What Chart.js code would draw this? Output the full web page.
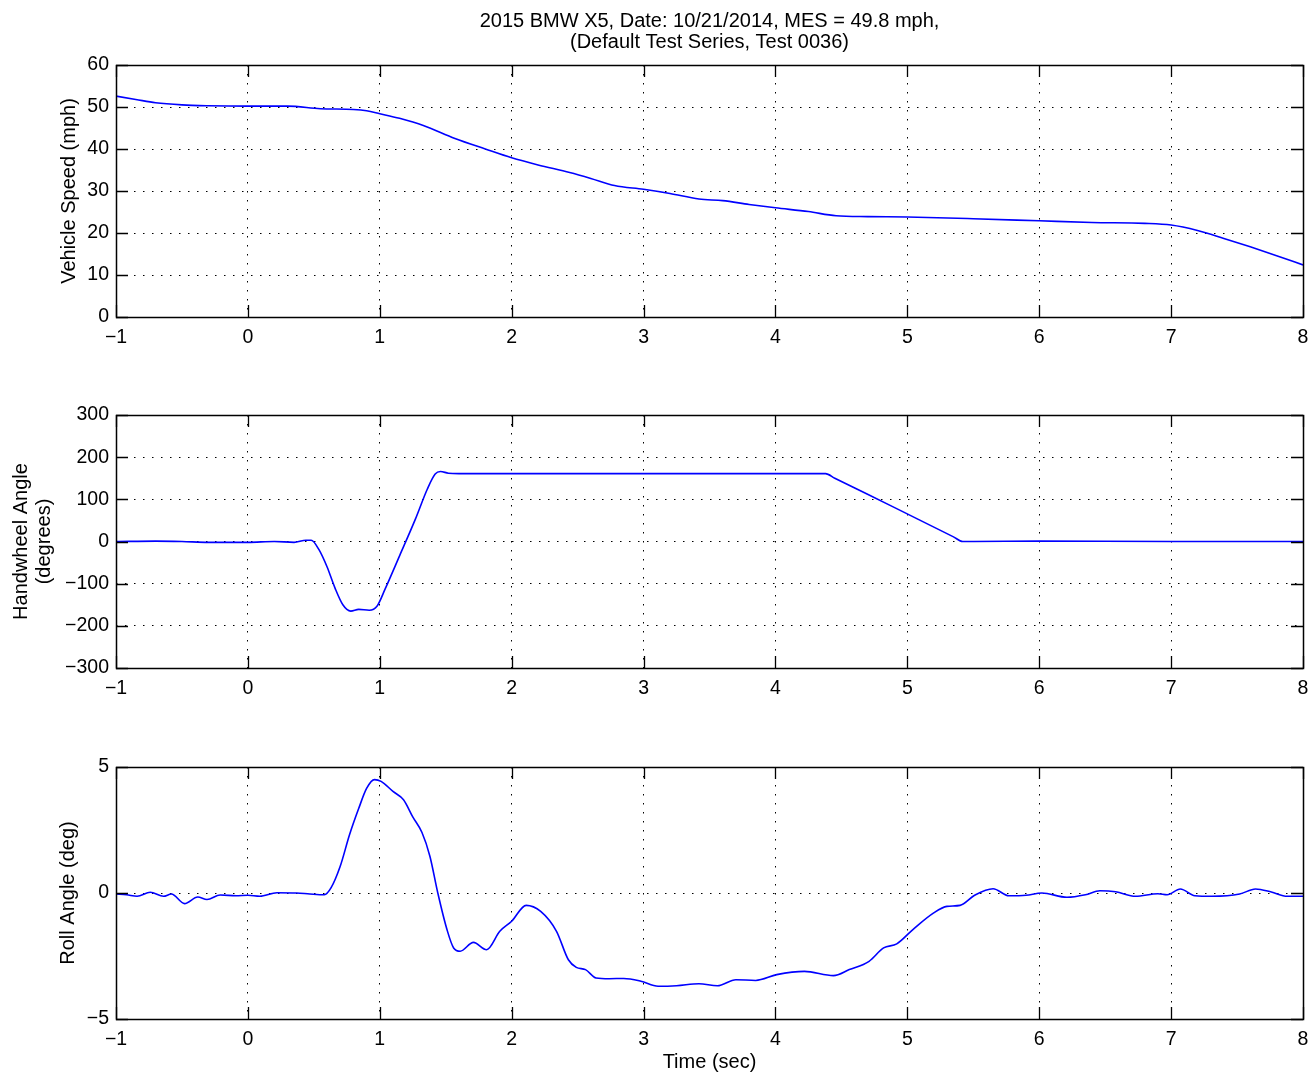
<!DOCTYPE html>
<html>
<head>
<meta charset="utf-8">
<script src="https://cdn.jsdelivr.net/npm/chart.js@4"></script>
<style>
    body { margin: 0; background: #fff; }
    #pagina { position: relative; width: 1312px; height: 1077px; }
    canvas { position: absolute; left: 0; }
</style>
</head>
<body>
<div id="pagina">
    <canvas id="graficoVelocidade" width="1312" height="370" style="top:0px"></canvas>
    <canvas id="graficoVolante" width="1312" height="350" style="top:370px"></canvas>
    <canvas id="graficoRolagem" width="1312" height="357" style="top:720px"></canvas>
</div>
<script>
const titulo = ["2015 BMW X5, Date: 10/21/2014, MES = 49.8 mph,", "(Default Test Series, Test 0036)"];

const ticksTempo = [-1, 0, 1, 2, 3, 4, 5, 6, 7, 8];
const ticksVelocidade = [0, 10, 20, 30, 40, 50, 60];
const ticksVolante = [-300, -200, -100, 0, 100, 200, 300];
const ticksRolagem = [-5, 0, 5];

const tempoVelocidade = [-1, -0.85, -0.7, -0.5, -0.3, 0, 0.3, 0.55, 0.8, 0.9, 1.0, 1.15, 1.33, 1.57, 1.8, 2.0, 2.2, 2.44, 2.6, 2.78,
    3.0, 3.2, 3.42, 3.6, 3.8, 4.0, 4.25, 4.46, 4.7, 5.0, 5.5, 6.0, 6.4, 6.8, 7.0, 7.2, 7.4, 7.6, 7.8, 8.0];
const velocidade = [52.6, 51.8, 51.0, 50.5, 50.3, 50.2, 50.2, 49.6, 49.4, 49.1, 48.4, 47.3, 45.6, 42.5, 40.0, 37.9, 36.2, 34.4, 33.0, 31.3,
    30.4, 29.4, 28.1, 27.7, 26.8, 26.0, 25.1, 24.1, 23.9, 23.8, 23.4, 22.9, 22.5, 22.3, 21.9, 20.6, 18.7, 16.7, 14.6, 12.4];

const tempoVolante = [-1, -0.7, -0.5, -0.3, 0, 0.2, 0.35, 0.44, 0.48, 0.54, 0.6, 0.66, 0.72, 0.78, 0.84, 0.92, 0.98, 1.04, 1.15, 1.27,
    1.36, 1.42, 1.46, 1.52, 1.6, 2.0, 3.0, 4.0, 4.3, 4.38, 4.45, 4.9, 5.35, 5.42, 5.5, 6, 7, 8];
const anguloVolante = [0, 1, 0, -2, -2, 0, -2, 3, 3, -20, -60, -110, -150, -165, -161, -163, -153, -113, -34, 53,
    124, 160, 166, 162, 161, 161, 161, 161, 161, 161, 150, 81, 11, 0, 0, 1, 0, 0];

const tempoRolagem = [-1, -0.92, -0.84, -0.74, -0.64, -0.58, -0.48, -0.38, -0.31, -0.21, -0.09, 0, 0.09, 0.22, 0.37, 0.47, 0.58, 0.63,
    0.70, 0.77, 0.84, 0.90, 0.96, 1.01, 1.10, 1.18, 1.25, 1.32, 1.38, 1.44, 1.51, 1.56, 1.61, 1.71, 1.81, 1.91, 2.0, 2.11, 2.22,
    2.34, 2.43, 2.49, 2.56, 2.64, 2.74, 2.85, 2.98, 3.11, 3.25, 3.42, 3.56, 3.70, 3.85, 4.01, 4.22, 4.44, 4.56, 4.71, 4.82, 4.92,
    5.04, 5.20, 5.30, 5.40, 5.51, 5.65, 5.77, 5.90, 6.02, 6.21, 6.35, 6.46, 6.58, 6.73, 6.90, 6.97, 7.07, 7.18, 7.31, 7.52, 7.64,
    7.76, 7.88, 8.0];
const anguloRolagem = [-0.04, -0.07, -0.13, 0.03, -0.13, -0.04, -0.42, -0.16, -0.26, -0.08, -0.11, -0.09, -0.13, 0.01, 0, -0.04, -0.07, 0.2,
    1.06, 2.3, 3.35, 4.15, 4.5, 4.43, 4.03, 3.7, 3.02, 2.4, 1.46, 0, -1.46, -2.18, -2.31, -1.96, -2.25, -1.52, -1.12, -0.49, -0.73,
    -1.52, -2.65, -2.95, -3.04, -3.37, -3.4, -3.39, -3.5, -3.7, -3.68, -3.6, -3.68, -3.44, -3.47, -3.24, -3.11, -3.28, -3.04, -2.71, -2.18, -2.02,
    -1.46, -0.79, -0.53, -0.49, -0.09, 0.17, -0.11, -0.09, 0, -0.17, -0.07, 0.09, 0.05, -0.13, -0.03, -0.07, 0.16, -0.11, -0.13, -0.04, 0.16,
    0.04, -0.13, -0.13];

const fonte = "'Liberation Sans', Arial, Helvetica, sans-serif";
const tamanhoTick = 19.5;
const tamanhoRotulo = 20;
const tamanhoMarca = 12;

// moldura do eixo e marcas para dentro, como no MATLAB
const moldura = {
    id: 'moldura',
    afterDraw(chart) {
        const { ctx, chartArea: a, scales: { x, y } } = chart;
        ctx.save();
        ctx.strokeStyle = '#000';
        ctx.lineWidth = 1.3;
        ctx.beginPath();
        x.ticks.forEach(t => {
            const px = Math.round(x.getPixelForValue(t.value)) + 0.5;
            ctx.moveTo(px, a.bottom); ctx.lineTo(px, a.bottom - tamanhoMarca);
            ctx.moveTo(px, a.top); ctx.lineTo(px, a.top + tamanhoMarca);
        });
        y.ticks.forEach(t => {
            const py = Math.round(y.getPixelForValue(t.value)) + 0.5;
            ctx.moveTo(a.left, py); ctx.lineTo(a.left + tamanhoMarca, py);
            ctx.moveTo(a.right, py); ctx.lineTo(a.right - tamanhoMarca, py);
        });
        ctx.stroke();
        ctx.lineWidth = 1.5;
        ctx.strokeRect(Math.round(a.left) + 0.5, Math.round(a.top) + 0.5, Math.round(a.width), Math.round(a.height));
        ctx.restore();
    }
};

const tituloGeral = {
    id: 'tituloGeral',
    afterDraw(chart) {
        if (chart.canvas.id != 'graficoVelocidade') return;
        const { ctx, chartArea: a } = chart;
        const cx = (a.left + a.right) / 2;
        ctx.save();
        ctx.fillStyle = '#000';
        ctx.font = `${tamanhoRotulo}px ${fonte}`;
        ctx.textAlign = 'center';
        ctx.textBaseline = 'middle';
        ctx.fillText(titulo[0], cx, 21);
        ctx.fillText(titulo[1], cx, 42);
        ctx.restore();
    }
};

function comMenos(v) {
    return String(v).replace('-', '\u2212');
}

function criarGrafico(idCanvas, tempo, valores, cfg) {
    const ctx = document.querySelector('#' + idCanvas);
    return new Chart(ctx, {
        type: 'line',
        data: {
            datasets: [{
                data: tempo.map((t, i) => ({ x: t, y: valores[i] })),
                borderColor: '#0000ff',
                borderWidth: 1.6,
                pointRadius: 0,
                fill: false,
                cubicInterpolationMode: 'monotone'
            }]
        },
        options: {
            responsive: false,
            animation: false,
            layout: { padding: { left: 0, right: 9, top: cfg.topo, bottom: 0 } },
            plugins: { legend: { display: false }, tooltip: { enabled: false } },
            scales: {
                x: {
                    type: 'linear',
                    min: -1,
                    max: 8,
                    afterBuildTicks: s => { s.ticks = ticksTempo.map(v => ({ value: v })); },
                    afterFit: s => { s.height = cfg.alturaX; s.paddingLeft = 0; s.paddingRight = 0; },
                    ticks: {
                        color: '#000',
                        font: { family: fonte, size: tamanhoTick },
                        padding: 9,
                        maxRotation: 0,
                        autoSkip: false,
                        callback: comMenos
                    },
                    grid: { color: '#000', lineWidth: 1, drawTicks: false },
                    border: { display: false, dash: [1.5, 7.5] },
                    title: {
                        display: !!cfg.tituloX,
                        text: cfg.tituloX,
                        color: '#000',
                        font: { family: fonte, size: tamanhoRotulo, lineHeight: 1.2 },
                        padding: { top: 0, bottom: 3 }
                    }
                },
                y: {
                    type: 'linear',
                    min: cfg.ticksY[0],
                    max: cfg.ticksY[cfg.ticksY.length - 1],
                    afterBuildTicks: s => { s.ticks = cfg.ticksY.map(v => ({ value: v })); },
                    afterFit: s => { s.width = 116; s.paddingTop = 0; s.paddingBottom = 0; },
                    ticks: {
                        color: '#000',
                        font: { family: fonte, size: tamanhoTick },
                        padding: 7,
                        autoSkip: false,
                        callback: comMenos
                    },
                    grid: { color: '#000', lineWidth: 1, drawTicks: false },
                    border: { display: false, dash: [1.5, 7.5] },
                    title: {
                        display: true,
                        text: cfg.tituloY,
                        color: '#000',
                        font: { family: fonte, size: tamanhoRotulo, lineHeight: cfg.alturaLinhaY },
                        padding: { top: cfg.recuoY, bottom: 0 }
                    }
                }
            }
        },
        plugins: [moldura, tituloGeral]
    });
}

criarGrafico('graficoVelocidade', tempoVelocidade, velocidade, {
    topo: 65, alturaX: 53, ticksY: ticksVelocidade,
    tituloY: 'Vehicle Speed (mph)', alturaLinhaY: 1.2, recuoY: 57
});

criarGrafico('graficoVolante', tempoVolante, anguloVolante, {
    topo: 45, alturaX: 52, ticksY: ticksVolante,
    tituloY: ['Handwheel Angle', '(degrees)'], alturaLinhaY: 1.15, recuoY: 9.5
});

criarGrafico('graficoRolagem', tempoRolagem, anguloRolagem, {
    topo: 47, alturaX: 58, ticksY: ticksRolagem,
    tituloY: 'Roll Angle (deg)', alturaLinhaY: 1.2, recuoY: 56.5,
    tituloX: 'Time (sec)'
});
</script>
</body>
</html>
